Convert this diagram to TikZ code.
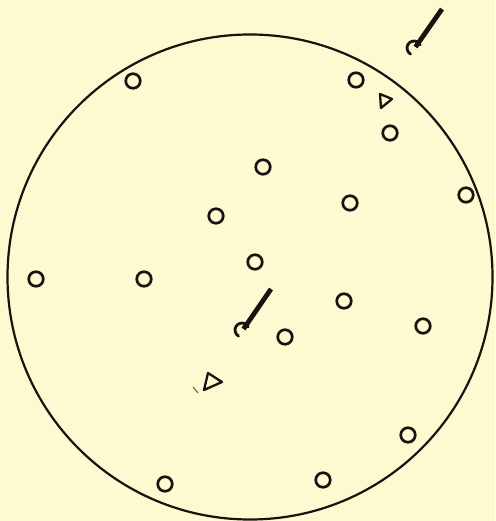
\documentclass[tikz,border=0pt]{standalone}
\usetikzlibrary{calc}
\definecolor{paper}{RGB}{253,249,208}
\definecolor{ink}{RGB}{25,18,15}
\begin{document}
\begin{tikzpicture}[x=1pt,y=-1pt,
  hole/.style={circle,draw=ink,line width=2.7pt,minimum size=14.5pt,inner sep=0pt},
  rim/.style={draw=ink,line width=2.2pt},
  stick/.style={draw=ink,line width=4.8pt,line cap=butt},
  hook/.style={draw=ink,line width=2.8pt,line cap=round},
  tri/.style={draw=ink,line width=2.3pt,line join=round}]
\fill[paper] (0,0) rectangle (495,521);
\useasboundingbox (0,0) rectangle (495,521);
% outer rim
\draw[rim] (250,277) circle (242.5);
% holes
\node[hole] (h1) at (133,81) {};
\node[hole] (h2) at (356,80) {};
\node[hole] (h3) at (390,133) {};
\node[hole] (h4) at (263,167) {};
\node[hole] (h5) at (466,195) {};
\node[hole] (h6) at (350,203) {};
\node[hole] (h7) at (216,216) {};
\node[hole] (h8) at (255,262) {};
\node[hole] (h9) at (36,279) {};
\node[hole] (h10) at (144,279) {};
\node[hole] (h11) at (344,301) {};
\node[hole] (h12) at (423,326) {};
\node[hole] (h13) at (285,337) {};
\node[hole] (h14) at (408,435) {};
\node[hole] (h15) at (323,480) {};
\node[hole] (h16) at (165,484) {};
% top-right stick with hook
\coordinate (a1) at (442,9);
\coordinate (c1) at (414,48);
\draw[stick] (a1) -- ($(c1)+(1.5,-1)$);
\draw[hook] ($(c1)+(120:7)$) arc[start angle=120,end angle=333,radius=7];
% central stick with hook
\coordinate (a2) at (271,289);
\coordinate (c2) at (242,330);
\draw[stick] (a2) -- ($(c2)+(1.5,-1)$);
\draw[hook] ($(c2)+(120:7)$) arc[start angle=120,end angle=333,radius=7];
% triangles
\draw[tri] (380,94) -- (392,99) -- (381,108) -- cycle;
\draw[tri] (208,373) -- (222,382) -- (204,390) -- cycle;
\draw[draw=ink!70,line width=1pt] (193,387) -- (198,393);
\end{tikzpicture}
\end{document}
